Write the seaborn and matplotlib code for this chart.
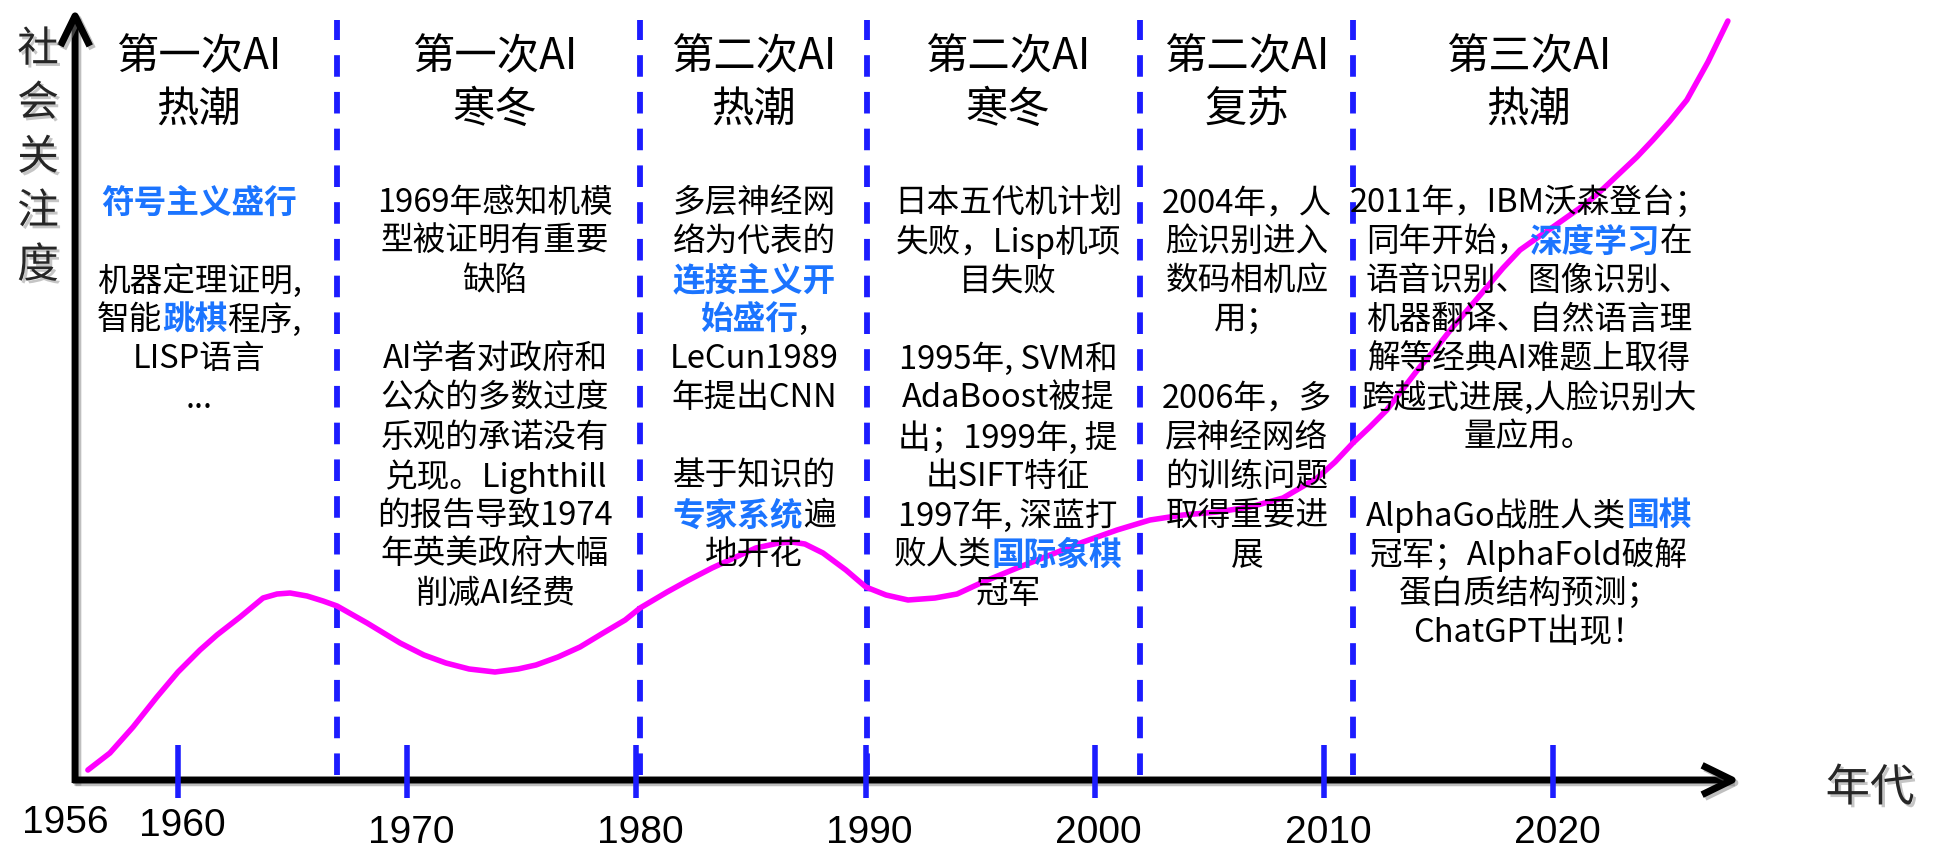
import re

import matplotlib
matplotlib.use("Agg")
import matplotlib.pyplot as plt
import matplotlib.patheffects as pe
import pandas as pd
import seaborn as sns

# ---- data ----
years = [1956.07, 1957.03, 1958.04, 1959.08, 1960.00, 1960.96, 1961.70, 1962.71,
         1963.71, 1964.32, 1964.89, 1965.63, 1966.33, 1966.94, 1968.25, 1969.69,
         1970.73, 1971.69, 1972.70, 1973.83, 1974.84, 1975.62, 1976.58, 1977.54,
         1978.55, 1979.51, 1980.16, 1981.34, 1982.29, 1983.30, 1984.25, 1985.21,
         1986.22, 1986.78, 1987.35, 1988.14, 1989.14, 1990.01, 1990.89, 1991.85,
         1993.03, 1993.99, 1995.12, 1996.61, 1998.05, 1999.49, 2000.97, 2002.41,
         2003.85, 2005.33, 2006.77, 2008.21, 2009.70, 2010.48, 2011.26, 2012.00,
         2012.74, 2013.44, 2014.18, 2014.93, 2015.62, 2016.37, 2017.11, 2017.81,
         2018.55, 2019.29, 2019.99, 2020.73, 2021.47, 2022.17, 2022.91, 2023.65,
         2024.35, 2025.09, 2025.83, 2026.75, 2027.62]
attention = [10, 27, 53, 83, 108, 130, 145, 163,
             182, 186, 187, 184, 179, 174, 157, 137,
             125, 117, 111, 108, 111, 115, 123, 133,
             147, 160, 172, 188, 200, 212, 222, 232,
             237, 238, 236, 227, 210, 193, 185, 180,
             182, 186, 198, 212, 225, 238, 250, 260,
             265, 268, 273, 282, 302, 318, 337, 353,
             370, 391, 413, 433, 453, 473, 493, 512,
             530, 542, 553, 565, 577, 591, 607, 623,
             640, 659, 680, 718, 759]

tick_years = [1960, 1970, 1980, 1990, 2000, 2010, 2020]
label_years = [1956, 1960, 1970, 1980, 1990, 2000, 2010, 2020]
era_bounds = [1966.94, 1980.16, 1990.06, 2001.97, 2011.26]

era_titles = [
    ["第一次AI", "热潮"],
    ["第一次AI", "寒冬"],
    ["第二次AI", "热潮"],
    ["第二次AI", "寒冬"],
    ["第二次AI", "复苏"],
    ["第三次AI", "热潮"],
]

# [..] marks the blue bold words
era_notes = [
    ["[符号主义盛行]", "", "机器定理证明,", "智能[跳棋]程序,", "LISP语言", "..."],
    ["1969年感知机模", "型被证明有重要", "缺陷", "", "AI学者对政府和", "公众的多数过度",
     "乐观的承诺没有", "兑现。Lighthill", "的报告导致1974", "年英美政府大幅", "削减AI经费"],
    ["多层神经网", "络为代表的", "[连接主义开]", "[始盛行],", "LeCun1989", "年提出CNN",
     "", "基于知识的", "[专家系统]遍", "地开花"],
    ["日本五代机计划", "失败，Lisp机项", "目失败", "", "1995年, SVM和", "AdaBoost被提",
     "出；1999年, 提", "出SIFT特征", "1997年, 深蓝打", "败人类[国际象棋]", "冠军"],
    ["2004年，人", "脸识别进入", "数码相机应", "用；", "", "2006年，多", "层神经网络",
     "的训练问题", "取得重要进", "展"],
    ["2011年，IBM沃森登台；", "同年开始，[深度学习]在", "语音识别、图像识别、",
     "机器翻译、自然语言理", "解等经典AI难题上取得", "跨越式进展,人脸识别大", "量应用。",
     "", "AlphaGo战胜人类[围棋]", "冠军；AlphaFold破解", "蛋白质结构预测；", "ChatGPT出现！"],
]

# ---- layout (pixels of the 1936x851 picture) ----
W, H = 1936, 851
col_x = [199, 495, 754, 1008, 1247, 1529]
title_y = [57, 110]
note_y0, note_dy = 203, 39.1

MAGENTA = "#FF00FF"
LINE_BLUE = "#1C1CFF"
TEXT_BLUE = "#1B74FF"

sns.set_theme(style="white")
plt.rcParams["font.family"] = ["Noto Sans CJK SC", "DejaVu Sans"]

fig = plt.figure(figsize=(W / 100, H / 100), dpi=100)
ax = fig.add_axes([0, 0, 1, 1])
ax.set_xlim(1952.235, 2036.70)
ax.set_ylim(-71, 780)
ax.axis("off")

df = pd.DataFrame({"year": years, "attention": attention})
sns.lineplot(data=df, x="year", y="attention", color=MAGENTA, lw=4.0, ax=ax,
             sort=False, zorder=3, solid_joinstyle="round", solid_capstyle="round")

ax.vlines(era_bounds, 5, 760, colors=LINE_BLUE, lw=4.2,
          linestyles=(0, (3.7, 2.6)), zorder=2)
ax.vlines(tick_years, -18, 35, colors=LINE_BLUE, lw=4.0, zorder=4)

shadow_line = [pe.SimpleLineShadow(offset=(2, -2), shadow_color="gray", alpha=0.5),
               pe.Normal()]
shadow_text = [pe.SimplePatchShadow(offset=(2, -2), shadow_rgbFace="gray", alpha=0.45),
               pe.Normal()]

# axes with arrow heads
y_axis_x = 1955.51
for start, end in [((y_axis_x, -3), (y_axis_x, 772)), ((y_axis_x - 0.1, 0), (2028.15, 0))]:
    a = ax.annotate("", xy=end, xytext=start, zorder=3,
                    arrowprops=dict(arrowstyle="->, head_length=0.45, head_width=0.22",
                                    lw=5, color="black", shrinkA=0, shrinkB=0,
                                    mutation_scale=48, capstyle="butt"))
    a.arrow_patch.set_path_effects(shadow_line)

# year labels under the axis
for i, yr in enumerate(label_years):
    dx = -21 if i == 0 else 4
    drop = 43 if i == 0 else (46 if i == 1 else 53)
    ax.annotate(str(yr), xy=(yr, 0), xytext=(dx * 0.72, -drop * 0.72),
                textcoords="offset points", ha="center", va="center",
                fontsize=28, family=["Liberation Sans", "DejaVu Sans"], color="black")


def fx(x, y):
    return x / W, 1 - y / H


# axis names
for k, ch in enumerate("社会关注度"):
    fig.text(*fx(38, 50 + 54 * k), ch, fontsize=30, ha="center", va="center",
             path_effects=shadow_text)
fig.text(*fx(1870, 788), "年代", fontsize=32, ha="center", va="center",
         path_effects=shadow_text)

renderer = fig.canvas.get_renderer()


def draw_line(cx, cy, s, size):
    parts = [p for p in re.split(r"(\[[^\]]*\])", s) if p]
    texts = []
    for p in parts:
        hi = p.startswith("[")
        t = fig.text(0, 1 - cy / H, p.strip("[]"), fontsize=size, ha="left", va="center",
                     color=TEXT_BLUE if hi else "black",
                     fontweight="bold" if hi else "normal")
        texts.append(t)
    widths = [t.get_window_extent(renderer).width for t in texts]
    x = cx - sum(widths) / 2
    for t, w in zip(texts, widths):
        t.set_x(x / W)
        x += w


for cx, title, notes in zip(col_x, era_titles, era_notes):
    for ty, line in zip(title_y, title):
        draw_line(cx, ty, line, 30.5)
    for k, line in enumerate(notes):
        if line:
            draw_line(cx, note_y0 + k * note_dy, line, 23.5)

fig.savefig("out.png", dpi=100)
